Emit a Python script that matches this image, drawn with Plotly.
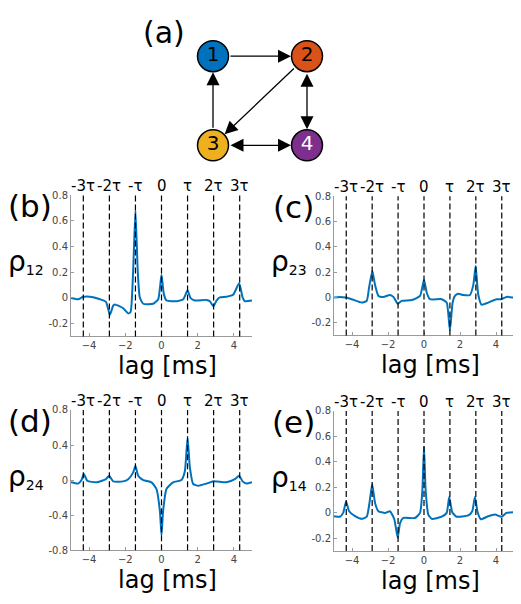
import plotly.graph_objects as go

# ---- data ----
tau = 1.44
tau_mult = [-3, -2, -1, 0, 1, 2, 3]
tau_labels = ["-3τ", "-2τ", "-τ", "0", "τ", "2τ", "3τ"]

lag_12 = [-5, -4.6, -4.35, -3.96, -3.4, -3.07, -2.85, -2.67, -2.58, -2.12, -1.84, -1.71,
          -1.57, -1.44, -1.31, -1.2, -1.01, -0.46, -0.18, 0, 0.13, 0.28, 0.83, 1.2, 1.44,
          1.6, 1.84, 2.49, 2.67, 2.87, 3.04, 3.22, 3.59, 3.96, 4.29, 4.48, 4.6, 5]
rho_12 = [0, -0.01, 0.008, 0.01, -0.01, -0.03, -0.13, -0.06, -0.05, -0.08, -0.12, -0.11,
          0.2, 0.68, 0.2, 0.005, -0.045, -0.045, -0.01, 0.18, 0.03, -0.02, -0.025, -0.01, 0.06,
          0, -0.02, -0.015, -0.025, -0.065, -0.02, 0.005, 0.01, 0.025, 0.115, 0.005, -0.025, -0.02]

lag_23 = [-5, -4.67, -4.35, -4.02, -3.46, -3.18, -3.05, -2.87, -2.72, -2.53, -2.26, -1.89,
          -1.7, -1.46, -1.24, -0.68, -0.22, 0, 0.15, 0.33, 0.98, 1.26, 1.44, 1.59, 1.72, 1.9,
          2.18, 2.55, 2.74, 2.87, 3.01, 3.2, 3.57, 4.03, 4.3, 4.58, 5]
rho_23 = [0, 0.005, 0, -0.013, -0.04, -0.026, 0.08, 0.21, 0.1, 0.013, 0.005, 0.02,
          0.005, -0.05, -0.026, -0.02, 0.013, 0.14, 0.04, -0.013, -0.013, -0.04, -0.26, -0.04,
          0.013, 0.03, 0.02, 0.02, 0.1, 0.25, 0.026, -0.057, -0.04, -0.013, -0.013, 0.005, 0]

lag_24 = [-5, -4.6, -4.42, -4.29, -4.1, -3.6, -3.07, -2.89, -2.67, -2.12, -1.84, -1.57,
          -1.44, -1.29, -1.01, -0.55, -0.28, -0.09, 0, 0.09, 0.28, 0.64, 1.1, 1.29, 1.44,
          1.57, 1.75, 2.03, 2.49, 2.87, 3.59, 4.05, 4.29, 4.48, 4.7, 5]
rho_24 = [-0.026, -0.04, 0, 0.07, -0.008, -0.026, 0.01, 0.05, -0.015, -0.015, 0.01, 0.085,
          0.16, 0.05, 0, -0.026, -0.1, -0.35, -0.63, -0.35, -0.1, -0.026, 0, 0.1, 0.48,
          0.14, -0.045, -0.065, -0.04, -0.015, -0.026, 0.01, 0.05, -0.015, -0.04, -0.026]

lag_14 = [-5, -4.67, -4.49, -4.33, -4.16, -3.83, -3.46, -3.18, -3.03, -2.88, -2.72, -2.53,
          -2.16, -1.89, -1.65, -1.46, -1.33, -1.15, -0.5, -0.22, -0.09, 0, 0.09, 0.24, 0.43,
          0.98, 1.26, 1.4, 1.57, 1.81, 2.46, 2.68, 2.83, 2.98, 3.16, 3.57, 3.94, 4.31, 4.58, 5]
rho_14 = [-0.026, -0.03, 0, 0.09, 0.013, -0.026, -0.047, -0.03, 0.078, 0.225, 0.078, 0.013,
          0, 0.013, -0.05, -0.195, -0.08, -0.04, -0.04, 0, 0.18, 0.52, 0.18, -0.013, -0.047,
          -0.03, 0, 0.125, 0.005, -0.03, -0.02, 0.013, 0.125, 0.005, -0.05, -0.026, -0.013, -0.03, 0, 0.005]

xticks = [-4, -2, 0, 2, 4]
yticks_a = [-0.2, 0, 0.2, 0.4, 0.6, 0.8]
yticks_b = [-0.8, -0.4, 0, 0.4, 0.8]

# network in panel (a), pixel positions
node_names = ["1", "2", "3", "4"]
node_x = [213, 307, 213, 307]
node_y = [51, 51, 142, 142]
node_colors = ["#0072BD", "#D95319", "#EDB120", "#7E2F8E"]
node_font = ["black", "black", "black", "white"]
edges = [(0, 1, "end"), (2, 0, "end"), (1, 2, "end"), (1, 3, "end+start"), (2, 3, "end+start")]

W, H = 521, 604
OFF = 8  # page body margin
FONT = "DejaVu Sans"
BLUE = "#0072BD"


def px(x):
    return (x - OFF) / W


def py(y):
    return 1 - (y - OFF) / H


panels = [
    # lag, rho, label, sub, x0, x1, y_top, y_bot, yrange, yticks
    (lag_12, rho_12, "(b)", "12", 71, 252, 193, 337, [-0.3, 0.8], yticks_a),
    (lag_23, rho_23, "(c)", "23", 334, 514, 194, 336, [-0.3, 0.8], yticks_a),
    (lag_24, rho_24, "(d)", "24", 71, 252, 412, 555, [-0.8, 0.8], yticks_b),
    (lag_14, rho_14, "(e)", "14", 334, 514, 413, 556, [-0.3, 0.8], yticks_a),
]

fig = go.Figure()
layout = dict(
    width=W, height=H, margin=dict(l=0, r=0, t=0, b=0),
    paper_bgcolor="white", plot_bgcolor="rgba(0,0,0,0)", showlegend=False,
    font=dict(family=FONT, color="black"),
)
shapes = []
annotations = []

for i, (lag, rho, tag, sub, x0, x1, yt, yb, yr, yt_vals) in enumerate(panels):
    n = "" if i == 0 else str(i + 1)
    xa, ya = "x" + n, "y" + n
    fig.add_trace(go.Scatter(x=lag, y=rho, mode="lines", xaxis=xa, yaxis=ya,
                             line=dict(color=BLUE, width=2, shape="spline", smoothing=0.5)))
    axis_common = dict(showgrid=False, zeroline=False, showline=True, linecolor="#9a9a9a",
                       linewidth=1, ticks="inside", ticklen=3, tickcolor="#9a9a9a",
                       tickfont=dict(size=10, color="#444444", family=FONT))
    layout["xaxis" + n] = dict(axis_common, domain=[px(x0), px(x1)], range=[-5, 5],
                               tickvals=xticks, anchor=ya)
    layout["yaxis" + n] = dict(axis_common, domain=[py(yb), py(yt)], range=yr,
                               tickvals=yt_vals, ticktext=[f"{v:g}" for v in yt_vals],
                               anchor=xa)
    for k, lab in zip(tau_mult, tau_labels):
        shapes.append(dict(type="line", xref=xa, yref=ya + " domain", x0=k * tau, x1=k * tau,
                           y0=0, y1=1, line=dict(color="black", width=1.2, dash="6px,3px")))
        annotations.append(dict(xref=xa, yref=ya + " domain", x=k * tau, y=1, yanchor="bottom",
                                text=lab, showarrow=False, font=dict(size=15), yshift=-2))
    # panel tag, rho label, lag label (pixel placed)
    annotations.append(dict(xref="x5", yref="y5", x=x0 - 41, y=yt + 11, text=tag,
                            showarrow=False, font=dict(size=31)))
    annotations.append(dict(xref="x5", yref="y5", x=x0 - 45, y=(yt + yb) / 2 - 4,
                            text="ρ<span style='font-size:20px'><sub>" + sub + "</sub></span>",
                            showarrow=False, font=dict(size=28)))
    annotations.append(dict(xref="x5", yref="y5", x=(x0 + x1) / 2 + 6, y=yb + 30,
                            text="lag [ms]", showarrow=False, font=dict(size=24)))

# pixel-space axis (reference pixel coordinates) for the diagram and free text
layout["xaxis5"] = dict(domain=[0, 1], range=[OFF, W + OFF], visible=False,
                        fixedrange=True, anchor="y5")
layout["yaxis5"] = dict(domain=[0, 1], range=[H + OFF, OFF], visible=False,
                        fixedrange=True, anchor="x5")

annotations.append(dict(xref="x5", yref="y5", x=164, y=27, text="(a)", showarrow=False,
                        font=dict(size=30)))

for s, t, side in edges:
    annotations.append(dict(xref="x5", yref="y5", axref="x5", ayref="y5",
                            x=node_x[t], y=node_y[t], ax=node_x[s], ay=node_y[s],
                            text="", showarrow=True, arrowhead=2, arrowside=side,
                            arrowsize=2, arrowwidth=1.3, arrowcolor="black",
                            standoff=16, startstandoff=16))

fig.add_trace(go.Scatter(x=node_x, y=node_y, xaxis="x5", yaxis="y5", mode="markers+text",
                         text=node_names, textposition="middle center",
                         textfont=dict(size=20, color=node_font, family=FONT),
                         marker=dict(size=31, color=node_colors,
                                     line=dict(color="black", width=1.5)),
                         hoverinfo="skip"))

layout["shapes"] = shapes
layout["annotations"] = annotations
fig.update_layout(**layout)
fig.write_html("out.html")
